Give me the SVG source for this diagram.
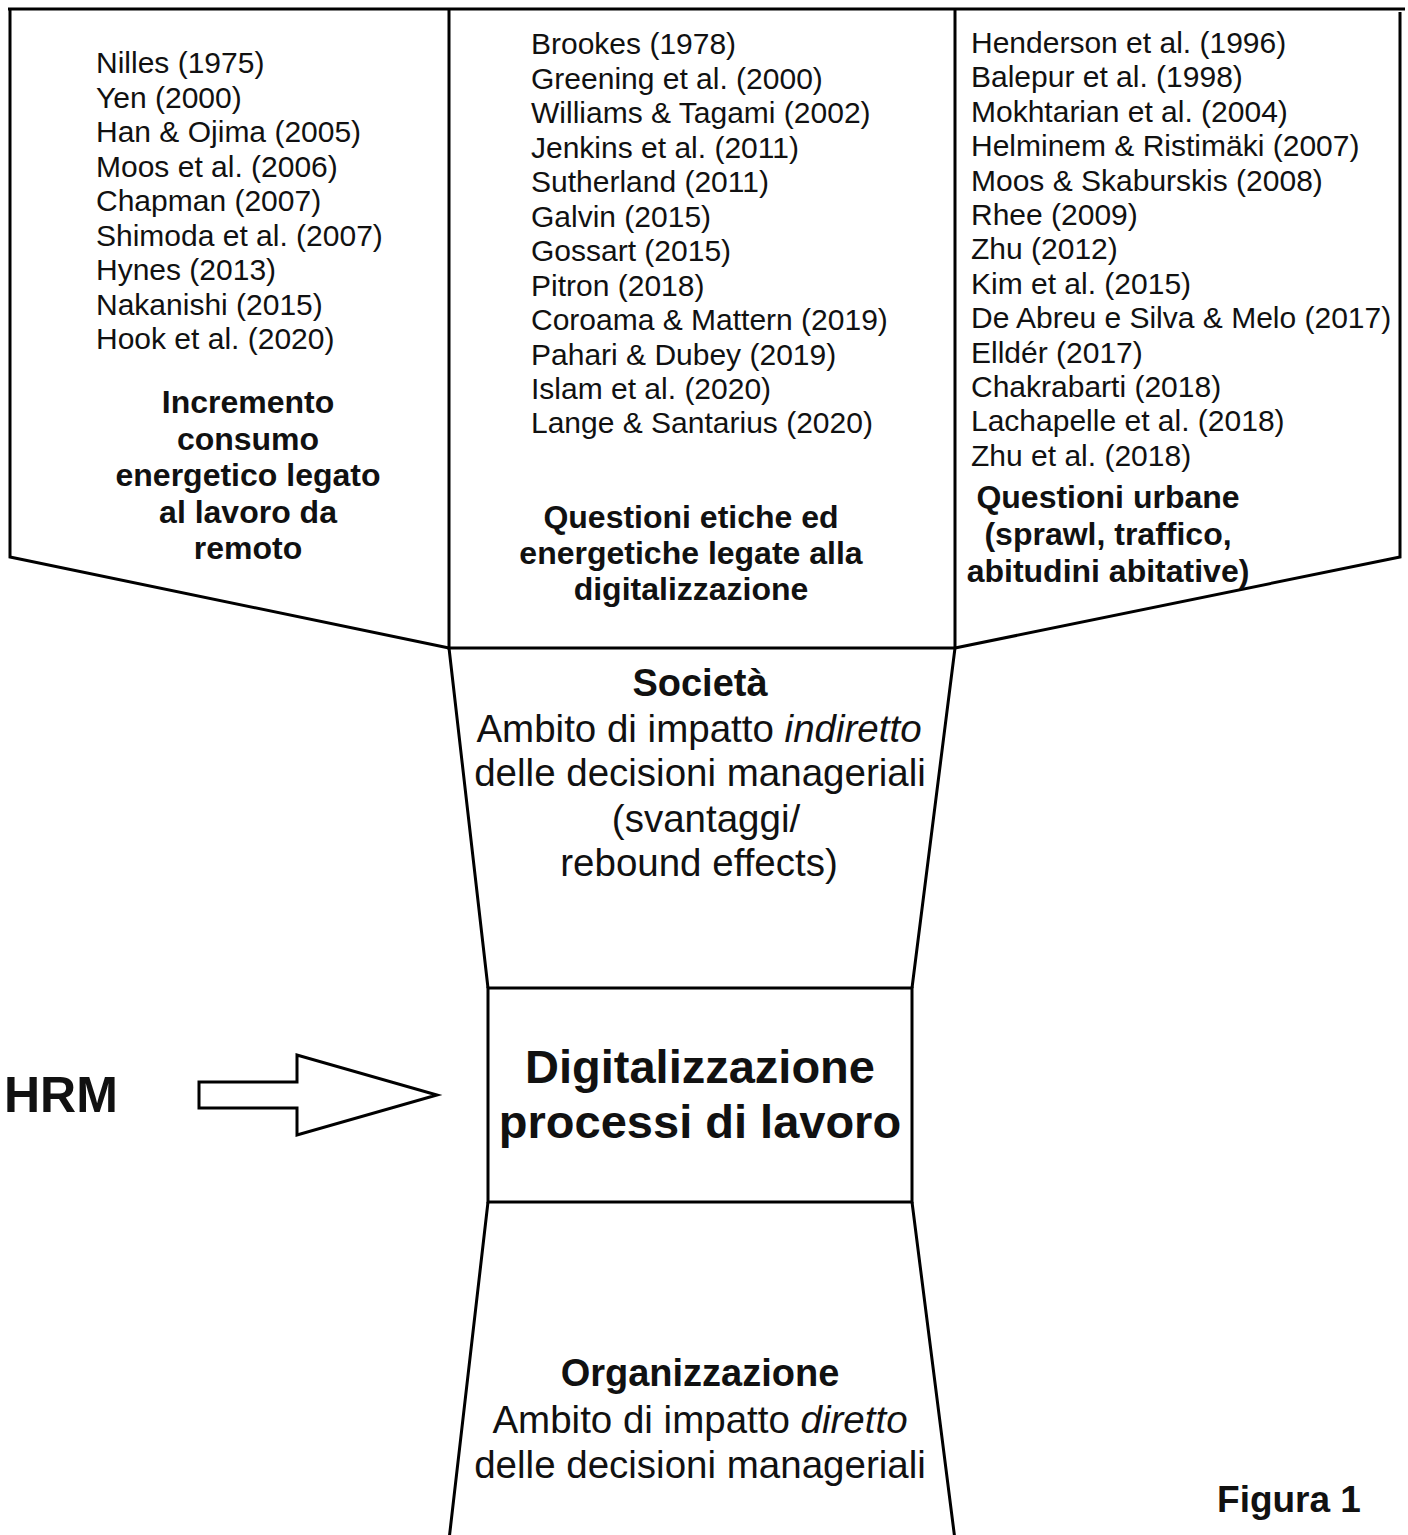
<svg xmlns="http://www.w3.org/2000/svg" width="1408" height="1535" viewBox="0 0 1408 1535">
<style>
.ln{fill:none;stroke:#000;stroke-width:3;stroke-linejoin:miter}
.sh{fill:#fff;stroke:#000;stroke-width:3}
text{font-family:"Liberation Sans",Arial,sans-serif;fill:#111}
.ref{font-size:30px}
.lbl{font-size:32px;font-weight:bold;text-anchor:middle}
.mid{font-size:38.5px;text-anchor:middle}
.midb{font-size:38px;font-weight:bold;text-anchor:middle}
.big{font-size:47px;font-weight:bold;text-anchor:middle}
</style>
<rect width="1408" height="1535" fill="#fff"/>
<g id="panel-left">
<path class="ln" d="M10,9 L10,557 L449,648"/>
<text class="ref" x="96"><tspan x="96" y="73">Nilles (1975)</tspan><tspan x="96" y="107.5">Yen (2000)</tspan><tspan x="96" y="142">Han &amp; Ojima (2005)</tspan><tspan x="96" y="176.5">Moos et al. (2006)</tspan><tspan x="96" y="211">Chapman (2007)</tspan><tspan x="96" y="245.5">Shimoda et al. (2007)</tspan><tspan x="96" y="280">Hynes (2013)</tspan><tspan x="96" y="314.5">Nakanishi (2015)</tspan><tspan x="96" y="349">Hook et al. (2020)</tspan></text>
<text class="lbl"><tspan x="248" y="413">Incremento</tspan><tspan x="248" y="449.5">consumo</tspan><tspan x="248" y="486">energetico legato</tspan><tspan x="248" y="522.5">al lavoro da</tspan><tspan x="248" y="559">remoto</tspan></text>
</g>
<g id="panel-middle">
<path class="ln" d="M449,9 L449,648 L955,648 M955,9 L955,648"/>
<text class="ref"><tspan x="531" y="54">Brookes (1978)</tspan><tspan x="531" y="88.5">Greening et al. (2000)</tspan><tspan x="531" y="123">Williams &amp; Tagami (2002)</tspan><tspan x="531" y="157.5">Jenkins et al. (2011)</tspan><tspan x="531" y="192">Sutherland (2011)</tspan><tspan x="531" y="226.5">Galvin (2015)</tspan><tspan x="531" y="261">Gossart (2015)</tspan><tspan x="531" y="295.5">Pitron (2018)</tspan><tspan x="531" y="330">Coroama &amp; Mattern (2019)</tspan><tspan x="531" y="364.5">Pahari &amp; Dubey (2019)</tspan><tspan x="531" y="399">Islam et al. (2020)</tspan><tspan x="531" y="433">Lange &amp; Santarius (2020)</tspan></text>
<text class="lbl"><tspan x="691" y="528">Questioni etiche ed</tspan><tspan x="691" y="564">energetiche legate alla</tspan><tspan x="691" y="600">digitalizzazione</tspan></text>
</g>
<g id="panel-right">
<path class="ln" d="M1400,12 L1400,557 L955,648"/>
<text class="ref"><tspan x="971" y="53">Henderson et al. (1996)</tspan><tspan x="971" y="87.4">Balepur et al. (1998)</tspan><tspan x="971" y="121.8">Mokhtarian et al. (2004)</tspan><tspan x="971" y="156.2">Helminem &amp; Ristimäki (2007)</tspan><tspan x="971" y="190.6">Moos &amp; Skaburskis (2008)</tspan><tspan x="971" y="225">Rhee (2009)</tspan><tspan x="971" y="259.4">Zhu (2012)</tspan><tspan x="971" y="293.8">Kim et al. (2015)</tspan><tspan x="971" y="328.2">De Abreu e Silva &amp; Melo (2017)</tspan><tspan x="971" y="362.6">Elldér (2017)</tspan><tspan x="971" y="397">Chakrabarti (2018)</tspan><tspan x="971" y="431.4">Lachapelle et al. (2018)</tspan><tspan x="971" y="466">Zhu et al. (2018)</tspan></text>
<text class="lbl"><tspan x="1108" y="508">Questioni urbane</tspan><tspan x="1108" y="545">(sprawl, traffico,</tspan><tspan x="1108" y="582">abitudini abitative)</tspan></text>
</g>
<path class="ln" d="M8,9 L1405,9"/>
<g id="societa">
<path class="ln" d="M449,648 L488,988 M955,648 L912,988"/>
<text class="midb" x="700" y="696">Società</text>
<text class="mid"><tspan x="699" y="742">Ambito di impatto <tspan font-style="italic">indiretto</tspan></tspan><tspan x="700" y="786">delle decisioni manageriali</tspan><tspan x="706" y="832">(svantaggi/</tspan><tspan x="699" y="876">rebound effects)</tspan></text>
</g>
<g id="digitalizzazione">
<rect class="ln" x="488" y="988" width="424" height="214"/>
<text class="big"><tspan x="700" y="1083">Digitalizzazione</tspan><tspan x="700" y="1138">processi di lavoro</tspan></text>
</g>
<g id="organizzazione">
<path class="ln" d="M488,1202 L449,1540 M912,1202 L955,1540"/>
<text class="midb" x="700" y="1386">Organizzazione</text>
<text class="mid"><tspan x="700" y="1433">Ambito di impatto <tspan font-style="italic">diretto</tspan></tspan><tspan x="700" y="1478">delle decisioni manageriali</tspan></text>
</g>
<g id="hrm">
<text x="4" y="1112" style="font-size:50px;font-weight:bold">HRM</text>
</g>
<g id="connectors">
<path class="sh" d="M199,1082 L297,1082 L297,1055 L437,1095 L297,1135 L297,1108 L199,1108 Z"/>
</g>
<g id="figura">
<text x="1289" y="1512" style="font-size:37px;font-weight:bold;text-anchor:middle">Figura 1</text>
</g>
</svg>
